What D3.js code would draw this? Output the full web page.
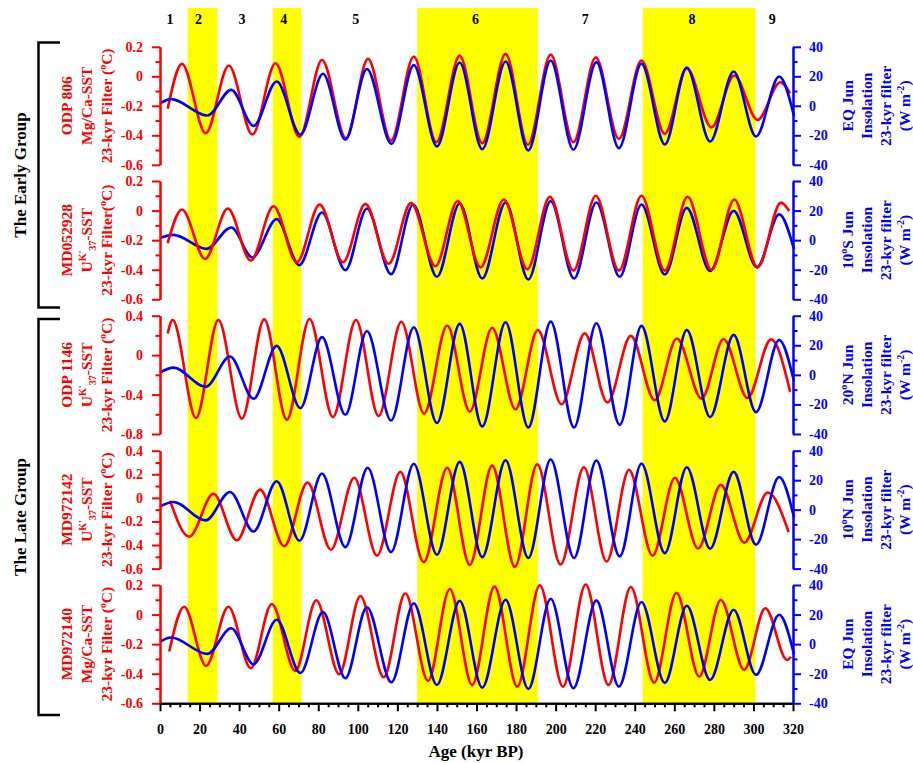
<!DOCTYPE html>
<html>
<head>
<meta charset="utf-8">
<script src="https://cdnjs.cloudflare.com/ajax/libs/d3/7.8.5/d3.min.js"></script>
<style>
  body { margin: 0; background: #fff; }
  svg { display: block; font-family: "Liberation Serif", "Times New Roman", serif; font-weight: bold; }
</style>
</head>
<body>
<svg id="chart" width="913" height="763"></svg>
<script>
// ---- data (extrema of each 23-kyr filtered series) ----

// shaded glacial stages (kyr BP) and the stage numbers along the top
const bandStart = [14, 57, 130, 244];
const bandEnd = [29, 71.5, 191, 301];
const stageNames = ["1", "2", "3", "4", "5", "6", "7", "8", "9"];
const stageAge = [5, 19.5, 41.5, 62.5, 99, 159.5, 215, 269, 309.5];

const xTicks = d3.range(0, 321, 20);

// EQ June insolation, 23-kyr filter (W m-2) - used in panels 1 and 5
const eqJunAge = [0, 5.6, 24, 36, 47.3, 59, 71, 82.4, 93.7, 104.6, 117, 128.3, 140, 151.5, 162.9, 174.7, 186.2, 197.5, 209, 220.6, 232, 243.4, 255.2, 266.3, 278.1, 290, 301.3, 313, 320.5];
const eqJunIns = [1.6, 4.5, -6.6, 10.8, -13.6, 16.5, -19.5, 21.7, -23, 25, -25.8, 27.6, -27.6, 29.4, -29.4, 30, -30.3, 30.7, -29.8, 29.6, -28.7, 28.5, -26.2, 26, -24.2, 23.3, -20.8, 19.9, -6.8];

// 10S June insolation
const s10JunAge = [0, 6.8, 23.6, 36, 46.7, 59, 70.4, 81.9, 93.7, 104.6, 116.8, 128, 140, 151.5, 162.9, 174.7, 186.2, 197.5, 209.3, 220.6, 232.4, 243.4, 255.2, 266.3, 278.1, 290, 301.8, 313, 320.5];
const s10JunIns = [1.6, 3.6, -5.9, 8.6, -11.7, 14.2, -16.9, 18.7, -20.3, 21.4, -23, 24.1, -24.8, 24.8, -25.9, 25.5, -26.6, 26.4, -25.9, 25.5, -24.8, 24.1, -23.2, 21.8, -20.9, 19.8, -18.4, 17.4, -6.1];

// 20N June insolation
const n20JunAge = [0, 6.8, 23.1, 35.4, 47.3, 59, 71, 81.9, 93.7, 104.6, 116.8, 128.3, 140, 151.5, 162.9, 174.7, 186.2, 197.5, 209.3, 220.6, 232.4, 243.4, 255.2, 266.3, 278.1, 290, 301.3, 313, 320.5];
const n20JunIns = [1.6, 4.9, -8.1, 12.4, -16.2, 19.6, -22.5, 25.5, -27, 29.7, -30.9, 32.2, -32.6, 34.5, -34.9, 35.6, -35.6, 36, -35.6, 34.9, -33.8, 33.1, -31.5, 30.4, -28.6, 27, -25.2, 23.6, -4.5];

// 10N June insolation
const n10JunAge = [0, 6.8, 23.1, 35.4, 47.3, 59, 70.5, 81.9, 93.7, 105, 116.8, 128.3, 140, 151.5, 162.9, 174.7, 186.2, 197.5, 209.3, 220.6, 232.4, 243.4, 255.2, 266.3, 278.1, 290, 301.3, 313, 320.5];
const n10JunIns = [2.2, 5.2, -7.3, 12, -14.8, 19.3, -21.1, 24.5, -25.4, 28.4, -28.8, 31.1, -30.6, 32.4, -32.2, 33.5, -32.8, 34, -32.8, 33.3, -31.7, 31.3, -29.5, 28.8, -26.5, 25.6, -23.8, 22.2, -5.2];

// SST 23-kyr filters (deg C)
const odp806Age = [3.9, 11.1, 23.1, 34.8, 46.7, 58.4, 70.5, 81.9, 94, 105.2, 116.8, 128.3, 139.7, 151.5, 162.9, 174.7, 186, 197.5, 209, 220.3, 232, 243.4, 255.2, 266.3, 278.8, 290.3, 302.1, 313.6, 318.5];
const odp806Sst = [-0.22, 0.084, -0.386, 0.073, -0.395, 0.088, -0.411, 0.111, -0.42, 0.118, -0.436, 0.134, -0.447, 0.14, -0.454, 0.152, -0.465, 0.147, -0.447, 0.129, -0.425, 0.106, -0.39, 0.054, -0.346, 0.005, -0.296, -0.04, -0.115];

const md052928Age = [3.9, 11.1, 22.8, 34.3, 45.9, 57.4, 69.2, 80.7, 92.5, 103.8, 115.6, 126.9, 139.2, 150.5, 162, 173.8, 185.7, 197.1, 209, 220.3, 232, 243.4, 255.2, 266.7, 278.8, 290.3, 302.1, 313.9, 318.1];
const md052928Sst = [-0.22, 0.007, -0.327, 0.014, -0.338, 0.029, -0.35, 0.041, -0.35, 0.045, -0.36, 0.052, -0.377, 0.065, -0.384, 0.075, -0.397, 0.093, -0.406, 0.1, -0.406, 0.1, -0.406, 0.093, -0.401, 0.075, -0.384, 0.054, -0.003];

const odp1146Age = [3.9, 6.4, 18.2, 29.5, 41.4, 52.7, 64.1, 75.6, 87.4, 99.1, 110.5, 122, 133.5, 145.2, 156.6, 167.9, 179.7, 191, 203, 214.7, 226.2, 238, 250.1, 261.3, 273.8, 284.9, 297, 308.9, 318.6];
const odp1146Sst = [0.22, 0.356, -0.638, 0.356, -0.644, 0.363, -0.654, 0.366, -0.627, 0.356, -0.617, 0.339, -0.593, 0.3, -0.573, 0.278, -0.549, 0.254, -0.498, 0.221, -0.481, 0.195, -0.458, 0.169, -0.441, 0.163, -0.434, 0.16, -0.373];

const md972142Age = [5.1, 14.8, 27, 38.8, 50.6, 62.8, 74.6, 86.4, 98.2, 109.7, 121.5, 133.3, 145.2, 156.6, 167.9, 179.4, 190.7, 202.5, 214.3, 225.8, 237.1, 249, 260.3, 272, 283.5, 295.4, 307.2, 317.8];
const md972142Sst = [-0.025, -0.33, 0.035, -0.36, 0.07, -0.41, 0.13, -0.44, 0.17, -0.49, 0.22, -0.545, 0.256, -0.568, 0.273, -0.585, 0.285, -0.565, 0.26, -0.54, 0.237, -0.49, 0.17, -0.43, 0.11, -0.38, 0.045, -0.29];

const md972140Age = [4.7, 12.2, 23.3, 34.6, 45.9, 56.5, 68.4, 79, 90.6, 101.3, 113.1, 124, 135.5, 146.5, 157.8, 169.1, 180.6, 192, 203.7, 215.2, 226.7, 238, 249.8, 261.1, 272.6, 283.5, 295.3, 306, 317, 319];
const md972140Sst = [-0.25, 0.053, -0.347, 0.053, -0.363, 0.072, -0.381, 0.097, -0.403, 0.126, -0.424, 0.144, -0.449, 0.173, -0.476, 0.189, -0.487, 0.198, -0.487, 0.203, -0.476, 0.186, -0.46, 0.148, -0.42, 0.099, -0.374, 0.043, -0.307, -0.285];

// ---- layout ----
const RED = "#ff0000", BLUE = "#0000ff";
const svg = d3.select("#chart");
const x = d3.scaleLinear().domain([0, 320]).range([160, 793]);

// label parts: [text, shift] where shift 1 = superscript, -1 = subscript
const UK37 = [["U", 0], ["K'", 1], ["37", -1], ["-SST", 0]];
const degC = (s) => [[s, 0], ["o", 1], ["C)", 0]];
const insol = (lat) => [[lat[0], 0], ["o", 1], [lat[1], 0]];
const wm2 = [["(W m", 0], ["-2", 1], [")", 0]];

const sstTicks02 = { major: [-0.6, -0.4, -0.2, 0, 0.2], minor: [-0.5, -0.3, -0.1, 0.1] };

const panels = [
  { top: 46.8, bottom: 164.8, dom: [-0.6, 0.2], ticks: sstTicks02,
    sst: [odp806Age, odp806Sst], ins: [eqJunAge, eqJunIns],
    left: [[["ODP 806", 0]], [["Mg/Ca-SST", 0]], degC("23-kyr Filter (")],
    right: [[["EQ Jun", 0]], [["Insolation", 0]], [["23-kyr filter", 0]], wm2] },
  { top: 181, bottom: 299.3, dom: [-0.6, 0.2], ticks: sstTicks02, redOnTop: true,
    sst: [md052928Age, md052928Sst], ins: [s10JunAge, s10JunIns],
    left: [[["MD052928", 0]], UK37, degC("23-kyr Filter(")],
    right: [insol(["10", "S Jun"]), [["Insolation", 0]], [["23-kyr filter", 0]], wm2] },
  { top: 315.7, bottom: 434, dom: [-0.8, 0.4],
    ticks: { major: [-0.8, -0.4, 0, 0.4], minor: [-0.6, -0.2, 0.2] },
    sst: [odp1146Age, odp1146Sst], ins: [n20JunAge, n20JunIns],
    left: [[["ODP 1146", 0]], UK37, degC("23-kyr Filter (")],
    right: [insol(["20", "N Jun"]), [["Insolation", 0]], [["23-kyr filter", 0]], wm2] },
  { top: 450.7, bottom: 568.6, dom: [-0.6, 0.4],
    ticks: { major: [-0.6, -0.4, -0.2, 0, 0.2, 0.4], minor: [-0.5, -0.3, -0.1, 0.1, 0.3] },
    sst: [md972142Age, md972142Sst], ins: [n10JunAge, n10JunIns],
    left: [[["MD972142", 0]], UK37, degC("23-kyr Filter (")],
    right: [insol(["10", "N Jun"]), [["Insolation", 0]], [["23-kyr filter", 0]], wm2] },
  { top: 585, bottom: 703.3, dom: [-0.6, 0.2], ticks: sstTicks02,
    sst: [md972140Age, md972140Sst], ins: [eqJunAge, eqJunIns],
    left: [[["MD972140", 0]], [["Mg/Ca-SST", 0]], degC("23-kyr Filter (")],
    right: [[["EQ Jun", 0]], [["Insolation", 0]], [["23-kyr filter", 0]], wm2] }
];

const axisBottomY = 703.3;

// rotated (bottom-to-top) multi-part label centred on (cx, cy)
function rotatedLabel(parent, cx, cy, parts, size, color) {
  const t = parent.append("text")
    .attr("transform", `translate(${cx},${cy}) rotate(-90)`)
    .attr("y", size * 0.35)
    .attr("text-anchor", "middle")
    .attr("font-size", size)
    .attr("fill", color);
  let prev = 0;
  parts.forEach(([txt, shift]) => {
    const off = (s) => (s === 1 ? -size * 0.4 : s === -1 ? size * 0.25 : 0);
    t.append("tspan")
      .attr("dy", off(shift) - off(prev))
      .attr("font-size", shift === 0 ? size : size * 0.65)
      .text(txt);
    prev = shift;
  });
  return t;
}

// yellow bands
svg.append("g")
  .selectAll("rect")
  .data(d3.zip(bandStart, bandEnd))
  .join("rect")
  .attr("x", (d) => x(d[0]))
  .attr("width", (d) => x(d[1]) - x(d[0]))
  .attr("y", 8)
  .attr("height", axisBottomY - 8)
  .attr("fill", "#ffff00");

// stage numbers
svg.append("g")
  .selectAll("text")
  .data(d3.zip(stageNames, stageAge))
  .join("text")
  .attr("x", (d) => x(d[1]))
  .attr("y", 23.5)
  .attr("text-anchor", "middle")
  .attr("font-size", 14)
  .text((d) => d[0]);

const fmtSst = (d) => (d === 0 ? "0" : d.toFixed(1));

panels.forEach((p) => {
  const ySst = d3.scaleLinear().domain(p.dom).range([p.bottom, p.top]);
  const yIns = d3.scaleLinear().domain([-40, 40]).range([p.bottom, p.top]);
  const g = svg.append("g");

  const lineSst = d3.line().x((d) => x(d[0])).y((d) => ySst(d[1])).curve(d3.curveMonotoneX);
  const lineIns = d3.line().x((d) => x(d[0])).y((d) => yIns(d[1])).curve(d3.curveMonotoneX);

  const curves = [
    { d: lineSst(d3.zip(p.sst[0], p.sst[1])), c: RED },
    { d: lineIns(d3.zip(p.ins[0], p.ins[1])), c: BLUE }
  ];
  if (p.redOnTop) curves.reverse();
  curves.forEach((cv) => {
    g.append("path")
      .attr("d", cv.d)
      .attr("fill", "none")
      .attr("stroke", cv.c)
      .attr("stroke-width", 2.6);
  });

  // left (SST) axis
  const la = g.append("g").attr("transform", "translate(160,0)");
  la.call(d3.axisLeft(ySst).tickValues(p.ticks.major).tickSize(8).tickSizeOuter(0).tickPadding(9).tickFormat(fmtSst));
  la.append("g").call(d3.axisLeft(ySst).tickValues(p.ticks.minor).tickSize(4.5).tickSizeOuter(0).tickFormat(""));
  la.selectAll("path,line").attr("stroke", RED).attr("stroke-width", 2);
  la.selectAll("text").attr("fill", RED).attr("font-size", 14);
  la.attr("font-family", null).attr("font-size", null);

  // right (insolation) axis
  const ra = g.append("g").attr("transform", "translate(793,0)");
  ra.call(d3.axisRight(yIns).tickValues([-40, -20, 0, 20, 40]).tickSize(8).tickSizeOuter(0).tickPadding(8).tickFormat((d) => String(d)));
  ra.append("g").call(d3.axisRight(yIns).tickValues([-30, -10, 10, 30]).tickSize(4.5).tickSizeOuter(0).tickFormat(""));
  ra.selectAll("path,line").attr("stroke", BLUE).attr("stroke-width", 2);
  ra.selectAll("text").attr("fill", BLUE).attr("font-size", 14);
  ra.attr("font-family", null).attr("font-size", null);

  // axis titles
  const cy = (p.top + p.bottom) / 2;
  [67, 87, 107].forEach((cx, i) => rotatedLabel(g, cx, cy, p.left[i], 15.5, RED));
  [848, 867, 886, 905].forEach((cx, i) => rotatedLabel(g, cx, cy, p.right[i], 15.5, BLUE));
});

// bottom age axis
const xa = svg.append("g").attr("transform", `translate(0,${axisBottomY})`);
xa.call(d3.axisBottom(x).tickValues(xTicks).tickSize(8).tickSizeOuter(0).tickPadding(13).tickFormat((d) => String(d)));
xa.append("g").call(d3.axisBottom(x).tickValues(d3.range(5, 320, 5).filter((v) => v % 20)).tickSize(4).tickSizeOuter(0).tickFormat(""));
xa.selectAll("path,line").attr("stroke", "#000").attr("stroke-width", 2);
xa.selectAll("text").attr("fill", "#000").attr("font-size", 14);
xa.attr("font-family", null).attr("font-size", null);

svg.append("text")
  .attr("x", 476)
  .attr("y", 757)
  .attr("text-anchor", "middle")
  .attr("font-size", 17)
  .text("Age (kyr BP)");

// group brackets
const groups = [
  { name: "The Early Group", y0: 42.5, y1: 307.5 },
  { name: "The Late Group", y0: 319, y1: 715 }
];
groups.forEach((gr) => {
  svg.append("path")
    .attr("d", `M60,${gr.y0}H38.5V${gr.y1}H60`)
    .attr("fill", "none")
    .attr("stroke", "#000")
    .attr("stroke-width", 2.5);
  rotatedLabel(svg, 20, (gr.y0 + gr.y1) / 2, [[gr.name, 0]], 17, "#000");
});
</script>
</body>
</html>
